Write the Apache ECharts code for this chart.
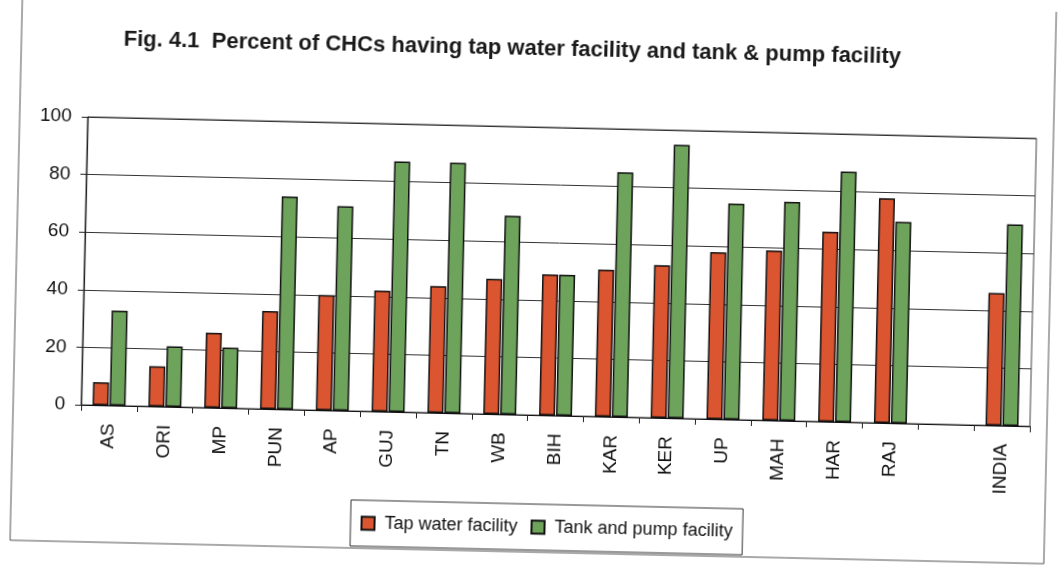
<!DOCTYPE html>
<html>
<head>
<meta charset="utf-8">
<title>Fig. 4.1 CHC water facilities</title>
<script src="https://cdn.jsdelivr.net/npm/echarts@6/dist/echarts.min.js"></script>
<style>
  html, body { margin: 0; padding: 0; background: #ffffff; overflow: hidden; }
  #chart { width: 1064px; height: 569px; transform: rotate(1.3deg); transform-origin: 50% 50%; }
</style>
</head>
<body>
<div id="chart"></div>
<script>
// States (plus the all-India figure), with an empty slot separating India
const categories = ['AS', 'ORI', 'MP', 'PUN', 'AP', 'GUJ', 'TN', 'WB', 'BIH', 'KAR', 'KER', 'UP', 'MAH', 'HAR', 'RAJ', '', 'INDIA'];

// Percent of CHCs with a tap water facility
const tapWater = [8, 14, 26, 34, 40, 42, 44, 47, 49, 51, 53, 58, 59, 66, 78, null, 46];

// Percent of CHCs with a tank and pump facility
const tankPump = [33, 21, 21, 74, 71, 87, 87, 69, 49, 85, 95, 75, 76, 87, 70, null, 70];

const yTicks = { min: 0, max: 100, step: 20 };

const seriesNames = ['Tap water facility', 'Tank and pump facility'];
const titleText = 'Fig. 4.1  Percent of CHCs having tap water facility and tank & pump facility';

const narrow = "'Liberation Sans Narrow', 'Arial Narrow', 'Liberation Sans', Arial, sans-serif";
const regular = "'Liberation Sans', Arial, sans-serif";

const chart = echarts.init(document.getElementById('chart'), null, { renderer: 'canvas' });

const barStyle = (color) => ({
  color: color,
  borderColor: '#111111',
  borderWidth: 1.5
});

chart.setOption({
  animation: false,
  backgroundColor: '#ffffff',
  graphic: [
    {
      type: 'rect',
      shape: { x: 16, y: -10, width: 1034, height: 562 },
      style: { fill: 'none', stroke: '#555555', lineWidth: 1 },
      silent: true,
      z: 0
    },
    {
      type: 'text',
      x: 507,
      y: 49,
      style: {
        text: titleText,
        font: "bold 22px " + narrow,
        fill: '#1a1a1a',
        align: 'center',
        verticalAlign: 'middle'
      },
      z: 10
    }
  ],
  legend: {
    data: seriesNames,
    left: 356,
    top: 504,
    orient: 'horizontal',
    itemWidth: 13,
    itemHeight: 13,
    itemGap: 13,
    icon: 'rect',
    borderColor: '#333333',
    borderWidth: 1,
    padding: [14, 10, 14, 10],
    textStyle: { fontFamily: regular, fontSize: 18, color: '#111111', padding: [0, 0, 0, 5] }
  },
  grid: {
    left: 84,
    right: 31,
    top: 127,
    bottom: 154,
    show: true,
    borderColor: '#444444',
    borderWidth: 1,
    backgroundColor: 'transparent'
  },
  xAxis: {
    type: 'category',
    data: categories,
    boundaryGap: true,
    axisLine: { show: true, lineStyle: { color: '#111111', width: 1.2 } },
    axisTick: { show: true, alignWithLabel: false, length: 6, lineStyle: { color: '#222222' } },
    axisLabel: {
      interval: 0,
      rotate: 90,
      margin: 18,
      fontFamily: regular,
      fontSize: 19,
      color: '#111111'
    },
    splitLine: { show: false }
  },
  yAxis: {
    type: 'value',
    min: yTicks.min,
    max: yTicks.max,
    interval: yTicks.step,
    axisLine: { show: true, lineStyle: { color: '#222222', width: 1.2 } },
    axisTick: { show: true, length: 6, lineStyle: { color: '#222222' } },
    axisLabel: { margin: 16, fontFamily: regular, fontSize: 19, color: '#111111' },
    splitLine: { show: true, lineStyle: { color: '#333333', width: 1 } }
  },
  series: [
    {
      name: seriesNames[0],
      type: 'bar',
      data: tapWater,
      barWidth: 16,
      barGap: '6%',
      itemStyle: barStyle('#DA5530')
    },
    {
      name: seriesNames[1],
      type: 'bar',
      data: tankPump,
      barWidth: 16,
      barGap: '6%',
      itemStyle: barStyle('#6EA35C')
    }
  ]
});
</script>
</body>
</html>
